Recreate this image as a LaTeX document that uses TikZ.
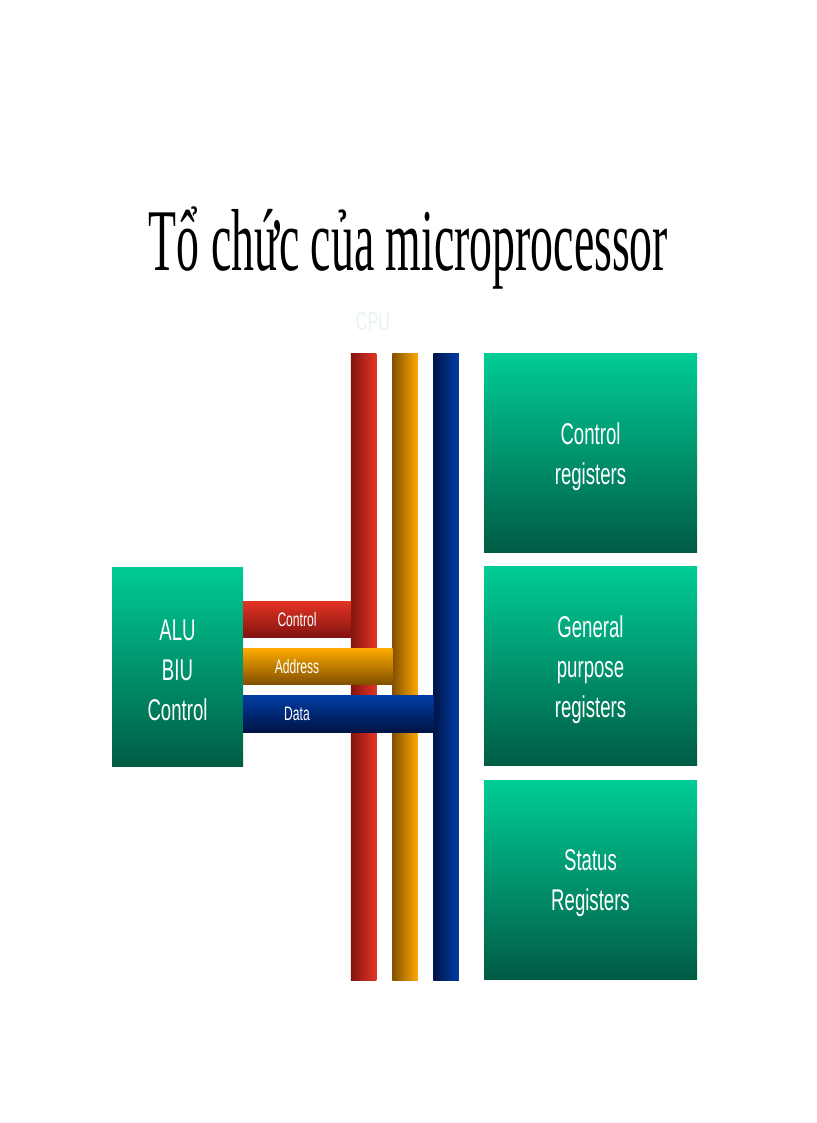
\documentclass[tikz,border=0pt]{standalone}
\usepackage{fontspec}
\setmainfont{Liberation Serif}
\newfontfamily\titleserif[FakeStretch=0.52]{Liberation Serif}
\newfontfamily\narrowsans[FakeStretch=0.62]{Liberation Sans}
\usetikzlibrary{positioning}

\definecolor{greentop}{RGB}{0,204,150}
\definecolor{greenbot}{RGB}{0,92,68}
\definecolor{reddark}{RGB}{130,20,15}
\definecolor{redlight}{RGB}{228,52,36}
\definecolor{orangedark}{RGB}{130,80,0}
\definecolor{orangelight}{RGB}{255,170,0}
\definecolor{bluedark}{RGB}{0,20,70}
\definecolor{bluelight}{RGB}{0,62,165}
\definecolor{cpuwhite}{RGB}{232,244,238}

\tikzset{
  regtext/.style={text=white, align=center, inner sep=0pt, yshift=-4pt, font=\narrowsans\fontsize{30}{40}\selectfont},
  regbox/.style={shade, top color=greentop, bottom color=greenbot, minimum width=213pt, minimum height=199pt,
    inner sep=0pt, outer sep=0pt, label={[regtext]center:{#1}}},
  vbus/.style={minimum width=25.5pt, minimum height=627pt, inner sep=0pt, outer sep=0pt},
  hbus/.style={minimum height=36pt, inner sep=0pt, outer sep=0pt, anchor=west},
  buslabel/.style={text=white, inner sep=0pt, font=\narrowsans\fontsize{19.5}{20}\selectfont},
}

\begin{document}
\begin{tikzpicture}[x=1pt, y=-1pt]
  \useasboundingbox (0,0) rectangle (816,1123);

  \node[font=\titleserif\fontsize{88}{88}\selectfont, anchor=base] (title) at (408.5,270) {Tổ chức của microprocessor};
  \node[text=cpuwhite, font=\narrowsans\fontsize{26}{26}\selectfont] (cpu) at (373,322) {CPU};

  % registers on the right
  \node[regbox={Control\\registers}] (ctrlreg) at (590.5,452.5) {};
  \node[regbox={General\\purpose\\registers}, below=14.5pt of ctrlreg] (gpreg) {};
  \node[regbox={Status\\Registers}, below=14.5pt of gpreg] (statreg) {};

  \node[regbox={ALU\\BIU\\Control}, minimum width=131pt] (alu) at (177.5,666.5) {};

  % vertical buses
  \node[vbus, left color=reddark, right color=redlight] (redbus) at (363.5,666.5) {};
  \node[vbus, left color=orangedark, right color=orangelight] (orangebus) at (405,666.5) {};
  \node[vbus, left color=bluedark, right color=bluelight] (bluebus) at (446,666.5) {};

  % buses from the ALU
  \node[hbus, minimum width=108pt, top color=redlight, bottom color=reddark] (cbus) at (243,619) {};
  \node[hbus, minimum width=149.5pt, top color=orangelight, bottom color=orangedark] (abus) at (243,666) {};
  \node[hbus, minimum width=190.5pt, minimum height=37pt, top color=bluelight, bottom color=bluedark] (dbus) at (243,713.5) {};

  \node[buslabel] (clabel) at (297,620) {Control};
  \node[buslabel] (alabel) at (297,667) {Address};
  \node[buslabel] (dlabel) at (297,714) {Data};
\end{tikzpicture}
\end{document}
